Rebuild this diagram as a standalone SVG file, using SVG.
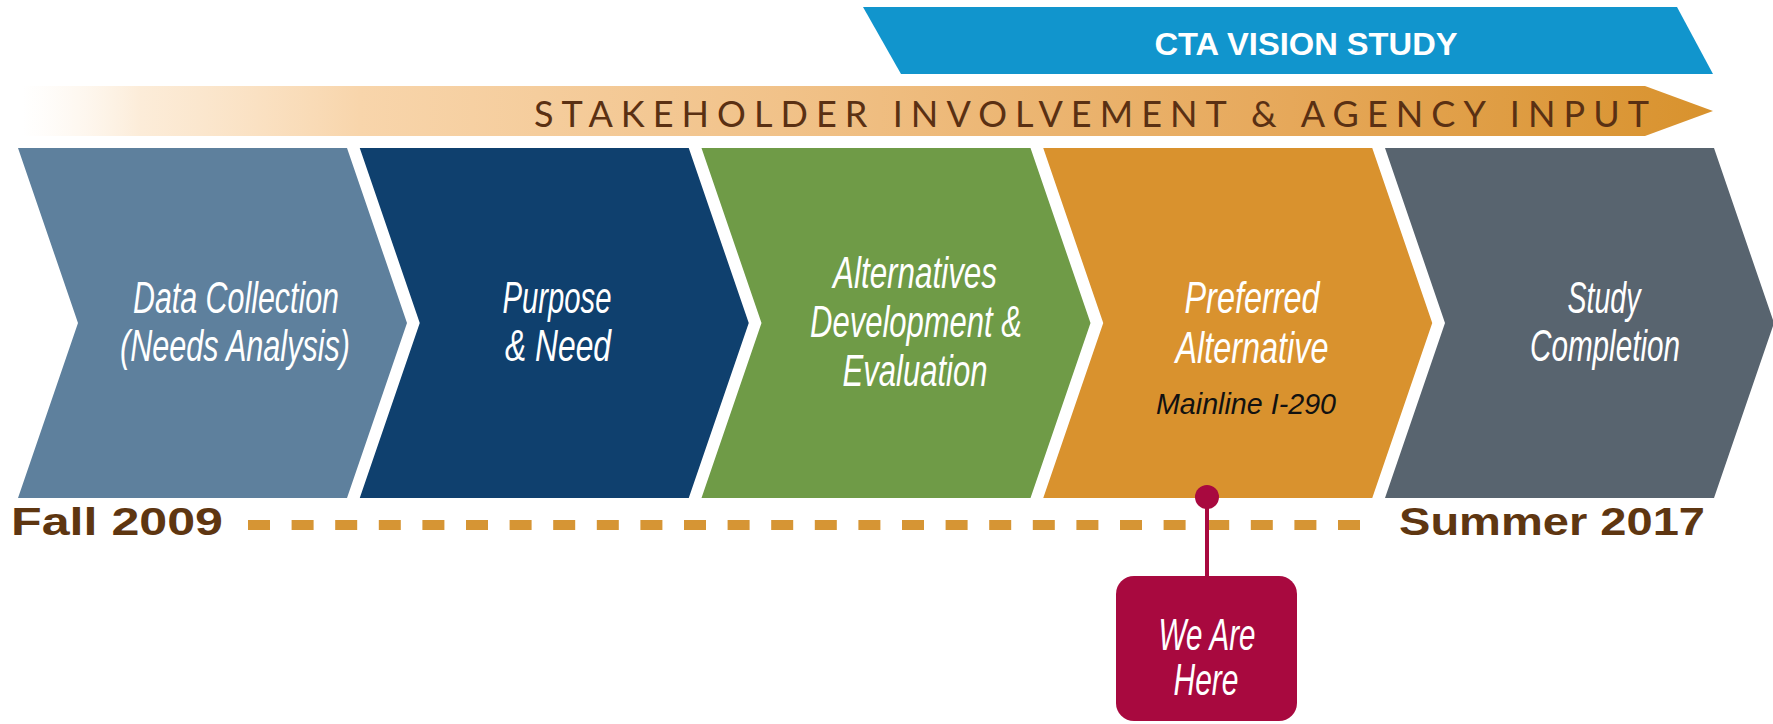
<svg xmlns="http://www.w3.org/2000/svg" width="1773" height="724" viewBox="0 0 1773 724">
<defs>
<linearGradient id="bandGrad" x1="22" y1="0" x2="1713" y2="0" gradientUnits="userSpaceOnUse">
<stop offset="0" stop-color="#fdf0e0" stop-opacity="0"/>
<stop offset="0.07" stop-color="#fbe6cc" stop-opacity="0.75"/>
<stop offset="0.2" stop-color="#f8d5ab"/>
<stop offset="0.45" stop-color="#f1c289"/>
<stop offset="0.75" stop-color="#e6a85a"/>
<stop offset="1" stop-color="#d8922d"/>
</linearGradient>
</defs>
<style>
.step { font-family: "Liberation Sans", Arial, sans-serif; font-style: italic; font-size: 44px; fill: #ffffff; text-anchor: middle; }
.sub { font-size: 30px; fill: #111111; }
.date { font-family: "Liberation Sans", Arial, sans-serif; font-weight: bold; font-size: 39px; fill: #5e3611; }
.banner { font-family: "Liberation Sans", Arial, sans-serif; font-weight: bold; font-size: 32px; fill: #ffffff; text-anchor: middle; }
.band { font-family: Lato, "Liberation Sans", sans-serif; font-weight: 400; font-size: 36px; fill: #5a3013; }
.pin { fill: #a8093f; }
</style>

<g id="cta-vision-study">
<polygon points="863,7 1677,7 1713,74 901,74" fill="#1195cd"/>
<text class="banner" x="1306" y="55" textLength="303" lengthAdjust="spacingAndGlyphs">CTA VISION STUDY</text>
</g>

<g id="stakeholder-input">
<polygon points="22,86 1645,86 1713,111 1645,136 22,136" fill="url(#bandGrad)"/>
<text class="band" x="534" y="127" textLength="1115" lengthAdjust="spacing">STAKEHOLDER INVOLVEMENT &amp; AGENCY INPUT</text>
</g>

<g id="step-data-collection">
<polygon points="18,148 347,148 407,323 347,498 18,498 78,323" fill="#5e809d"/>
<text class="step" x="236" y="313" textLength="206" lengthAdjust="spacingAndGlyphs">Data Collection</text>
<text class="step" x="235" y="361" textLength="230" lengthAdjust="spacingAndGlyphs">(Needs Analysis)</text>
</g>

<g id="step-purpose-need">
<polygon points="359.75,148 688.75,148 748.75,323 688.75,498 359.75,498 419.75,323" fill="#0f406e"/>
<text class="step" x="557" y="313" textLength="109" lengthAdjust="spacingAndGlyphs">Purpose</text>
<text class="step" x="558" y="361" textLength="106" lengthAdjust="spacingAndGlyphs">&amp; Need</text>
</g>

<g id="step-alternatives">
<polygon points="701.5,148 1030.5,148 1090.5,323 1030.5,498 701.5,498 761.5,323" fill="#6f9b47"/>
<text class="step" x="915" y="288" textLength="164" lengthAdjust="spacingAndGlyphs">Alternatives</text>
<text class="step" x="916" y="337" textLength="212" lengthAdjust="spacingAndGlyphs">Development &amp;</text>
<text class="step" x="915" y="386" textLength="145" lengthAdjust="spacingAndGlyphs">Evaluation</text>
</g>

<g id="step-preferred">
<polygon points="1043.25,148 1372.25,148 1432.25,323 1372.25,498 1043.25,498 1103.25,323" fill="#d9922e"/>
<text class="step" x="1252" y="313" textLength="135" lengthAdjust="spacingAndGlyphs">Preferred</text>
<text class="step" x="1252" y="363" textLength="153" lengthAdjust="spacingAndGlyphs">Alternative</text>
<text class="step sub" x="1246" y="414" textLength="180" lengthAdjust="spacingAndGlyphs">Mainline  I-290</text>
</g>

<g id="step-study-completion">
<polygon points="1385,148 1714,148 1774,323 1714,498 1385,498 1445,323" fill="#58646f"/>
<text class="step" x="1604" y="313" textLength="73" lengthAdjust="spacingAndGlyphs">Study</text>
<text class="step" x="1605" y="361" textLength="150" lengthAdjust="spacingAndGlyphs">Completion</text>
</g>

<g id="timeline">
<line x1="248" y1="525" x2="1360" y2="525" stroke="#d69534" stroke-width="10" stroke-dasharray="22 21.6"/>
<text class="date" x="11" y="535" textLength="212" lengthAdjust="spacingAndGlyphs">Fall 2009</text>
<text class="date" x="1399" y="535" textLength="306" lengthAdjust="spacingAndGlyphs">Summer 2017</text>
</g>

<g id="connectors">
<line x1="1207" y1="497" x2="1207" y2="580" stroke="#a8093f" stroke-width="4"/>
</g>

<g id="we-are-here">
<circle class="pin" cx="1207" cy="497" r="12"/>
<rect class="pin" x="1116" y="576" width="181" height="145" rx="18" ry="18"/>
<text class="step" x="1207" y="650" textLength="97" lengthAdjust="spacingAndGlyphs">We Are</text>
<text class="step" x="1206" y="695" textLength="65" lengthAdjust="spacingAndGlyphs">Here</text>
</g>
</svg>
